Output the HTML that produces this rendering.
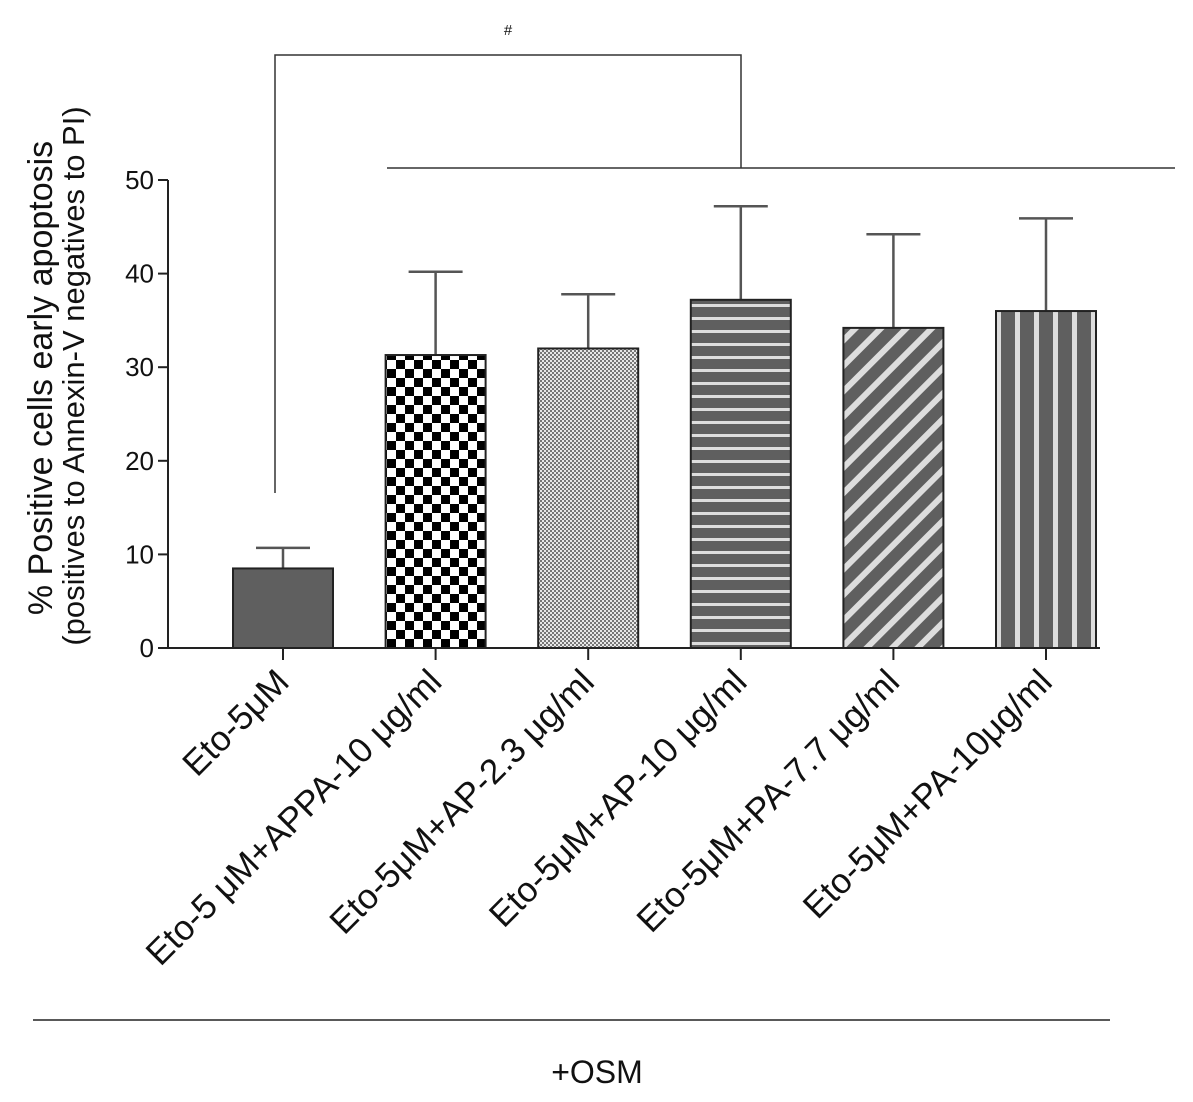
<!DOCTYPE html>
<html><head><meta charset="utf-8"><style>
body{margin:0;background:#fff}
svg text{font-family:"Liberation Sans",sans-serif;fill:#111}
</style></head><body>
<svg id="chart" width="1193" height="1097" viewBox="0 0 1193 1097">
<defs>
<pattern id="p0" width="10" height="10" patternUnits="userSpaceOnUse"><rect width="10" height="10" fill="#5f5f5f"/></pattern>
<pattern id="p1" width="18" height="18" patternUnits="userSpaceOnUse"><rect width="18" height="18" fill="#fff"/><rect width="9" height="9" fill="#000"/><rect x="9" y="9" width="9" height="9" fill="#000"/></pattern>
<pattern id="p2" width="4" height="4" patternUnits="userSpaceOnUse"><rect width="4" height="4" fill="#e8e8e8"/><rect width="2" height="2" fill="#777"/><rect x="2" y="2" width="2" height="2" fill="#777"/></pattern>
<pattern id="p3" width="13" height="13" patternUnits="userSpaceOnUse"><rect width="13" height="13" fill="#5f5f5f"/><rect y="5" width="13" height="3" fill="#ddd"/></pattern>
<pattern id="p4" width="18" height="18" patternUnits="userSpaceOnUse" patternTransform="rotate(45)"><rect width="18" height="18" fill="#5f5f5f"/><rect x="6" width="6" height="18" fill="#ddd"/></pattern>
<pattern id="p5" width="19" height="19" patternUnits="userSpaceOnUse"><rect width="19" height="19" fill="#5f5f5f"/><rect x="8" width="5" height="19" fill="#ddd"/></pattern>
</defs>
<g id="plot"></g>
</svg>
<script>
const categories=["Eto-5μM","Eto-5 μM+APPA-10 μg/ml","Eto-5μM+AP-2.3 μg/ml","Eto-5μM+AP-10 μg/ml","Eto-5μM+PA-7.7 μg/ml","Eto-5μM+PA-10μg/ml"];
const means=[8.5,31.3,32.0,37.2,34.2,36.0];
const errs=[2.2,8.9,5.8,10.0,10.0,9.9];
const yTicks=[0,10,20,30,40,50];
const NS="http://www.w3.org/2000/svg";
const g=document.getElementById('plot');
const y0=648,y50=180,axX=168;
const y=v=>y0-(v/50)*(y0-y50);
const xc=i=>283+i*152.6;
function mk(t,a,p){const e=document.createElementNS(NS,t);for(const k in a)e.setAttribute(k,a[k]);(p||g).appendChild(e);return e;}
let e;
e=mk('line',{x1:axX,y1:y(0),x2:axX,y2:y(50),stroke:'#222','stroke-width':2});

e=mk('line',{x1:axX,y1:y0,x2:1100,y2:y0,stroke:'#222','stroke-width':2});

yTicks.forEach(t=>{
 mk('line',{x1:axX-10,y1:y(t),x2:axX,y2:y(t),stroke:'#222','stroke-width':2});
 e=mk('text',{x:axX-14,y:y(t)+9,'text-anchor':'end','font-size':26});e.textContent=t;
 
});
categories.forEach((c,i)=>{
 const x=xc(i),w=100;
 e=mk('line',{x1:x,y1:y(means[i]),x2:x,y2:y(means[i]+errs[i]),stroke:'#555','stroke-width':2.5});
 
 mk('line',{x1:x-27,y1:y(means[i]+errs[i]),x2:x+27,y2:y(means[i]+errs[i]),stroke:'#555','stroke-width':2.5});
 e=mk('rect',{x:x-w/2,y:y(means[i]),width:w,height:y0-y(means[i]),fill:'url(#p'+i+')',stroke:'#222','stroke-width':2});
 
 mk('line',{x1:x,y1:y0,x2:x,y2:y0+12,stroke:'#222','stroke-width':2});
 e=mk('text',{x:x+8,y:y0+36,'text-anchor':'end','font-size':35,transform:`rotate(-45 ${x+8} ${y0+36})`});e.textContent=c;
 
});
e=mk('text',{x:0,y:0,'text-anchor':'middle','font-size':34,transform:'translate(52 378) rotate(-90)'});e.textContent='% Positive cells early apoptosis';

e=mk('text',{x:0,y:0,'text-anchor':'middle','font-size':31,transform:'translate(84 376) rotate(-90)'});e.textContent='(positives to Annexin-V negatives to PI)';

e=mk('polyline',{points:'275,493 275,55 741,55 741,168',fill:'none',stroke:'#333','stroke-width':1.5});

e=mk('line',{x1:387,y1:168,x2:1175,y2:168,stroke:'#333','stroke-width':1.5});

e=mk('text',{x:508,y:35,'text-anchor':'middle','font-size':15});e.textContent='#';

e=mk('line',{x1:33,y1:1020,x2:1110,y2:1020,stroke:'#222','stroke-width':1.5});

e=mk('text',{x:597,y:1083,'text-anchor':'middle','font-size':32});e.textContent='+OSM';

</script>
</body></html>
